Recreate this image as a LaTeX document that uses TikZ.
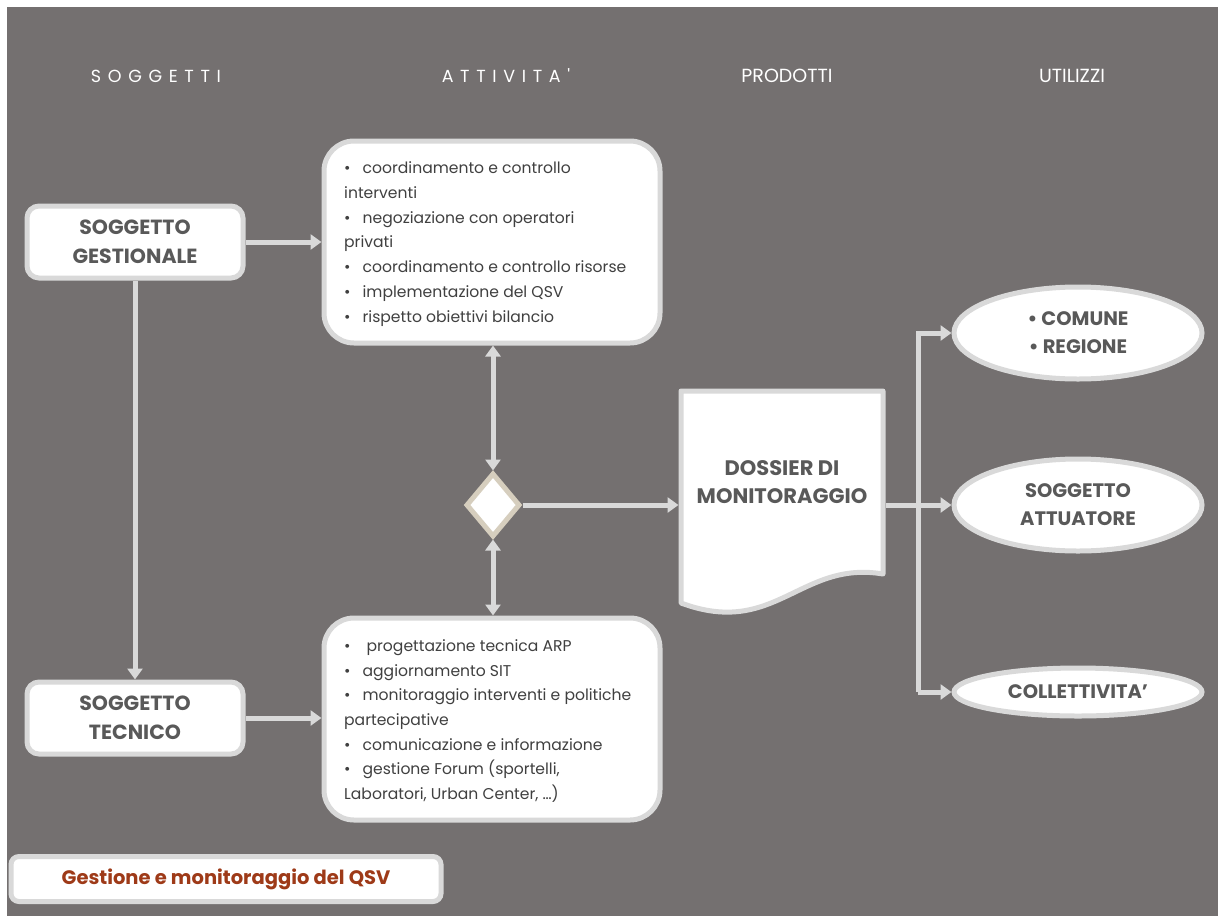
\documentclass[tikz,border=0pt]{standalone}
\usepackage{fontspec}
\setmainfont{Poppins}
\newfontfamily\spacedfont[LetterSpace=38]{Poppins}
\usetikzlibrary{shapes.geometric,arrows.meta}
\definecolor{bg}{RGB}{116,112,112}
\definecolor{edge}{RGB}{217,217,217}
\definecolor{dia}{RGB}{214,206,190}
\definecolor{txt}{RGB}{89,89,89}
\definecolor{body}{RGB}{64,64,64}
\definecolor{redt}{RGB}{158,58,24}
\newcommand{\bul}{\textbullet\hspace{12pt}}
\tikzset{
  head/.style={text=white,font=\fontsize{19}{20}\selectfont},
  shead/.style={text=white,font=\spacedfont\fontsize{17.5}{20}\selectfont},
  subj/.style={draw=edge,fill=white,line width=5pt,rounded corners=12pt,minimum width=216pt,minimum height=72pt,align=center,text=txt,font=\bfseries\fontsize{20.5}{29}\selectfont,inner sep=0pt},
  actbox/.style={draw=edge,fill=white,line width=5pt,rounded corners=30pt,minimum width=336pt,minimum height=202pt,inner sep=0pt},
  listtext/.style={align=left,text=body,font=\fontsize{15.6}{24.7}\selectfont,anchor=west,inner sep=0pt},
  util/.style={ellipse,draw=edge,fill=white,line width=5pt,minimum width=248pt,align=center,text=txt,font=\bfseries\fontsize{19.5}{28}\selectfont,inner sep=0pt},
  conn/.style={draw=edge,line width=5pt},
  arr/.style={conn,-{Triangle[width=15pt,length=11pt]}},
  darr/.style={conn,{Triangle[width=15pt,length=11pt]}-{Triangle[width=15pt,length=11pt]}},
}
\begin{document}
\begin{tikzpicture}[x=1pt,y=-1pt]
\useasboundingbox (0,0) rectangle (1218,916);
\fill[bg] (7,7) rectangle (1218,916);

% headers
\node[shead] (hsog) at (156,76) {SOGGETTI};
\node[shead] (hatt) at (506,76) {ATTIVITA'};
\node[head] (hprod) at (787,76) {PRODOTTI};
\node[head] (hutil) at (1072,76) {UTILIZZI};

% subjects
\node[subj] (gest) at (135,242) {SOGGETTO\\GESTIONALE};
\node[subj] (tec) at (135,718) {SOGGETTO\\TECNICO};

% activity boxes
\node[actbox] (act1) at (492,242) {};
\node[listtext] (list1) at (344,244) {\bul coordinamento e controllo\\interventi\\\bul negoziazione con operatori\\privati\\\bul coordinamento e controllo risorse\\\bul implementazione del QSV\\\bul rispetto obiettivi bilancio};
\node[actbox] (act2) at (492,719) {};
\node[listtext] (list2) at (344,721) {\bul\hspace{4pt}progettazione tecnica ARP\\\bul aggiornamento SIT\\\bul monitoraggio interventi e politiche\\partecipative\\\bul comunicazione e informazione\\\bul gestione Forum (sportelli,\\Laboratori, Urban Center, \dots)};

% decision diamond
\node[diamond,draw=dia,fill=white,line width=5pt,minimum width=54pt,minimum height=64pt,inner sep=0pt,aspect=0.85] (dec) at (493,505) {};

% dossier document
\node[minimum width=202pt,minimum height=228pt,inner sep=0pt,outer sep=2.5pt] (dossier) at (782,505) {};
\draw[draw=edge,fill=white,line width=5pt,line join=round]
  (681,391) -- (883,391) -- (883,574)
  .. controls (800,560) and (775,638) .. (681,603) -- cycle;
\node[align=center,text=txt,font=\bfseries\fontsize{21}{28}\selectfont] (dosstext) at (782,482) {DOSSIER DI\\MONITORAGGIO};

% utilizzi
\node[util,minimum height=92pt] (comune) at (1078,333) {\textbullet\ COMUNE\\\textbullet\ REGIONE};
\node[util,minimum height=92pt] (attu) at (1078,505) {SOGGETTO\\ATTUATORE};
\node[util,minimum height=48pt] (coll) at (1078,692) {COLLETTIVITA'};

% bottom label
\node[draw=edge,fill=white,line width=5pt,rounded corners=8pt,minimum width=430pt,minimum height=45pt,text=redt,font=\bfseries\fontsize{19.5}{22}\selectfont] (label) at (226,879) {Gestione e monitoraggio del QSV};

% connectors
\coordinate (bus) at (918,505);
\draw[arr] (gest.east) -- (act1.west |- gest.east);
\draw[arr] (tec.east) -- (act2.west |- tec.east);
\draw[arr] (gest.south) -- (tec.north);
\draw[darr] (act1.south -| dec.north) -- (dec.north);
\draw[darr] (dec.south) -- (act2.north -| dec.south);
\draw[arr] (dec.east) -- (dossier.west);
\draw[arr] (dossier.east) -- (attu.west);
\draw[arr,line join=miter] (coll.west -| bus) -- (comune.west -| bus) -- (comune.west);
\draw[arr] (coll.west -| bus) -- (coll.west);
\end{tikzpicture}
\end{document}
